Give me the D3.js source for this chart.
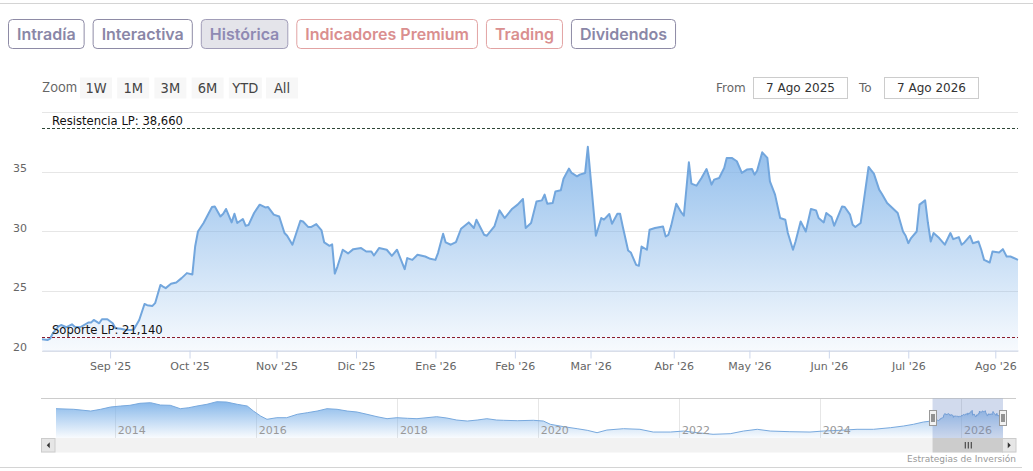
<!DOCTYPE html>
<html>
<head>
<meta charset="utf-8">
<script src="https://cdn.jsdelivr.net/npm/d3@7"></script>
<style>
  body { margin: 0; background: #fff; }
  svg { display: block; }
</style>
</head>
<body>
<div id="chart"></div>
<script>
// ---- data ----
const tabLabels = ['Intradía', 'Interactiva', 'Histórica', 'Indicadores Premium', 'Trading', 'Dividendos'];
const tabKinds = ['plain', 'plain', 'active', 'premium', 'premium', 'plain'];

const zoomButtons = ['1W', '1M', '3M', '6M', 'YTD', 'All'];
const rangeFrom = '7 Ago 2025';
const rangeTo = '7 Ago 2026';

// month boundaries of the visible year and trading sessions in each (ordinal axis)
const monthBreaks = ['2025-08-07', '2025-09-01', '2025-10-01', '2025-11-01', '2025-12-01', '2026-01-01',
  '2026-02-01', '2026-03-01', '2026-04-01', '2026-05-01', '2026-06-01', '2026-07-01', '2026-08-01', '2026-08-07'];
const sessionsPerMonth = [18, 21, 23, 21, 21, 21, 20, 22, 20, 21, 21, 23, 6];
const monthLabels = ["Sep '25", "Oct '25", "Nov '25", "Dic '25", "Ene '26", "Feb '26", "Mar '26",
  "Abr '26", "May '26", "Jun '26", "Jul '26", "Ago '26"];

const yTicks = [20, 25, 30, 35, 40];
const yTickLabels = [20, 25, 30, 35];

const levelNames = ['Resistencia LP', 'Soporte LP'];
const levelValues = [38.66, 21.14];

const prices = [
  ['2025-08-07', 20.94], ['2025-08-09', 20.88], ['2025-08-10', 21.00], ['2025-08-11', 21.45],
  ['2025-08-13', 22.00], ['2025-08-14', 22.14], ['2025-08-16', 21.95], ['2025-08-18', 22.20],
  ['2025-08-19', 22.00], ['2025-08-21', 21.95], ['2025-08-24', 22.34], ['2025-08-25', 22.34],
  ['2025-08-26', 22.56], ['2025-08-28', 22.28], ['2025-08-29', 22.62], ['2025-08-31', 22.62],
  ['2025-09-02', 22.28], ['2025-09-03', 21.87], ['2025-09-05', 21.83], ['2025-09-07', 21.72],
  ['2025-09-09', 21.72], ['2025-09-10', 21.78], ['2025-09-12', 22.56], ['2025-09-14', 23.90],
  ['2025-09-15', 23.80], ['2025-09-17', 23.74], ['2025-09-18', 23.97], ['2025-09-20', 25.50],
  ['2025-09-21', 25.36], ['2025-09-22', 25.23], ['2025-09-24', 25.59], ['2025-09-26', 25.70],
  ['2025-09-28', 26.07], ['2025-09-30', 26.49], ['2025-10-02', 26.37], ['2025-10-03', 28.72],
  ['2025-10-04', 29.98], ['2025-10-06', 30.69], ['2025-10-09', 32.03], ['2025-10-10', 32.08],
  ['2025-10-12', 31.24], ['2025-10-13', 31.47], ['2025-10-14', 31.87], ['2025-10-16', 30.74],
  ['2025-10-17', 31.47], ['2025-10-18', 30.69], ['2025-10-20', 31.03], ['2025-10-21', 30.46],
  ['2025-10-22', 30.52], ['2025-10-24', 31.53], ['2025-10-26', 32.23], ['2025-10-28', 32.00],
  ['2025-10-29', 32.03], ['2025-10-31', 31.39], ['2025-11-02', 31.24], ['2025-11-04', 29.85],
  ['2025-11-05', 29.62], ['2025-11-07', 28.87], ['2025-11-10', 30.88], ['2025-11-11', 30.82],
  ['2025-11-13', 30.35], ['2025-11-14', 30.35], ['2025-11-16', 30.60], ['2025-11-18', 30.07],
  ['2025-11-19', 29.06], ['2025-11-21', 28.78], ['2025-11-22', 28.90], ['2025-11-23', 26.45],
  ['2025-11-24', 27.04], ['2025-11-26', 28.45], ['2025-11-28', 28.14], ['2025-11-30', 28.50],
  ['2025-12-03', 28.59], ['2025-12-05', 28.30], ['2025-12-07', 28.30], ['2025-12-08', 27.97],
  ['2025-12-10', 28.59], ['2025-12-13', 28.45], ['2025-12-15', 27.94], ['2025-12-17', 28.45],
  ['2025-12-20', 26.82], ['2025-12-21', 27.75], ['2025-12-23', 27.60], ['2025-12-25', 28.03],
  ['2025-12-28', 27.88], ['2025-12-30', 27.69], ['2026-01-01', 27.60], ['2026-01-02', 28.17],
  ['2026-01-04', 29.79], ['2026-01-05', 29.06], ['2026-01-07', 28.87], ['2026-01-09', 29.09],
  ['2026-01-11', 30.21], ['2026-01-14', 30.74], ['2026-01-16', 30.27], ['2026-01-17', 30.97],
  ['2026-01-20', 29.71], ['2026-01-21', 29.62], ['2026-01-24', 30.40], ['2026-01-26', 31.75],
  ['2026-01-28', 31.11], ['2026-01-31', 31.89], ['2026-02-02', 32.23], ['2026-02-04', 32.70],
  ['2026-02-05', 30.27], ['2026-02-07', 30.69], ['2026-02-09', 32.50], ['2026-02-11', 32.59],
  ['2026-02-12', 33.07], ['2026-02-13', 32.31], ['2026-02-15', 32.37], ['2026-02-16', 33.34],
  ['2026-02-18', 33.43], ['2026-02-19', 34.41], ['2026-02-21', 35.25], ['2026-02-22', 34.89],
  ['2026-02-24', 34.61], ['2026-02-25', 34.75], ['2026-02-27', 34.89], ['2026-02-28', 37.08],
  ['2026-03-03', 29.62], ['2026-03-05', 31.11], ['2026-03-06', 30.97], ['2026-03-08', 31.45],
  ['2026-03-09', 30.63], ['2026-03-11', 31.47], ['2026-03-12', 31.47], ['2026-03-13', 30.40],
  ['2026-03-15', 28.39], ['2026-03-16', 28.22], ['2026-03-18', 27.18], ['2026-03-19', 27.10],
  ['2026-03-20', 28.72], ['2026-03-22', 28.45], ['2026-03-23', 30.13], ['2026-03-25', 30.27],
  ['2026-03-28', 30.40], ['2026-03-29', 29.56], ['2026-03-30', 29.70], ['2026-03-31', 30.43],
  ['2026-04-02', 32.30], ['2026-04-04', 31.58], ['2026-04-05', 31.30], ['2026-04-07', 35.78],
  ['2026-04-08', 33.99], ['2026-04-10', 33.82], ['2026-04-12', 34.47], ['2026-04-14', 35.22],
  ['2026-04-16', 33.91], ['2026-04-17', 34.33], ['2026-04-19', 34.47], ['2026-04-21', 35.31],
  ['2026-04-22', 36.15], ['2026-04-24', 36.15], ['2026-04-26', 35.87], ['2026-04-28', 34.89],
  ['2026-04-30', 35.17], ['2026-05-02', 35.22], ['2026-05-03', 34.75], ['2026-05-04', 35.08],
  ['2026-05-06', 36.62], ['2026-05-08', 36.15], ['2026-05-09', 34.19], ['2026-05-11', 33.07],
  ['2026-05-13', 31.11], ['2026-05-15', 30.97], ['2026-05-16', 29.85], ['2026-05-18', 28.45],
  ['2026-05-19', 29.14], ['2026-05-21', 30.82], ['2026-05-23', 29.98], ['2026-05-25', 31.87],
  ['2026-05-27', 31.75], ['2026-05-28', 31.11], ['2026-05-30', 30.74], ['2026-05-31', 31.53],
  ['2026-06-02', 31.19], ['2026-06-03', 30.46], ['2026-06-06', 32.08], ['2026-06-07', 32.03],
  ['2026-06-09', 31.39], ['2026-06-10', 30.55], ['2026-06-11', 30.35], ['2026-06-13', 30.69],
  ['2026-06-14', 32.23], ['2026-06-16', 35.39], ['2026-06-17', 35.11], ['2026-06-18', 34.83],
  ['2026-06-20', 33.49], ['2026-06-21', 33.15], ['2026-06-23', 32.37], ['2026-06-25', 31.95],
  ['2026-06-27', 31.53], ['2026-06-29', 29.98], ['2026-06-30', 29.62], ['2026-07-01', 29.00],
  ['2026-07-02', 29.43], ['2026-07-04', 29.98], ['2026-07-05', 32.23], ['2026-07-07', 32.59],
  ['2026-07-08', 30.69], ['2026-07-09', 29.14], ['2026-07-10', 29.85], ['2026-07-12', 29.43],
  ['2026-07-14', 28.87], ['2026-07-16', 29.85], ['2026-07-17', 29.34], ['2026-07-19', 29.51],
  ['2026-07-20', 28.87], ['2026-07-21', 29.06], ['2026-07-23', 29.62], ['2026-07-24', 29.00],
  ['2026-07-26', 29.14], ['2026-07-27', 28.45], ['2026-07-28', 27.60], ['2026-07-30', 27.38],
  ['2026-07-31', 28.30], ['2026-08-02', 28.22], ['2026-08-03', 28.50], ['2026-08-04', 27.88],
  ['2026-08-05', 27.88], ['2026-08-07', 27.60]
];

// long history shown in the navigator (before the visible year)
const history = [
  ['2013-03-02', 39.5], ['2013-06-02', 38.6], ['2013-08-29', 36.0], ['2013-10-19', 38.6],
  ['2013-12-09', 42.0], ['2014-01-30', 43.5], ['2014-03-20', 44.6], ['2014-05-11', 47.6],
  ['2014-07-05', 48.5], ['2014-08-25', 45.0], ['2014-10-15', 44.6], ['2014-12-06', 39.5],
  ['2015-01-19', 41.0], ['2015-03-02', 43.5], ['2015-04-23', 46.1], ['2015-06-13', 50.0],
  ['2015-08-03', 49.5], ['2015-09-27', 46.1], ['2015-11-18', 43.5], ['2015-12-20', 36.0],
  ['2016-01-26', 28.5], ['2016-02-28', 23.6], ['2016-04-19', 26.0], ['2016-06-09', 26.0],
  ['2016-08-03', 31.1], ['2016-09-24', 33.5], ['2016-11-14', 36.0], ['2017-01-04', 39.5],
  ['2017-02-25', 38.6], ['2017-04-19', 36.0], ['2017-06-09', 34.5], ['2017-07-30', 31.1],
  ['2017-09-20', 27.5], ['2017-11-11', 24.5], ['2018-01-01', 26.0], ['2018-02-25', 25.1],
  ['2018-04-15', 24.5], ['2018-06-06', 26.0], ['2018-07-26', 27.5], ['2018-09-17', 25.5],
  ['2018-11-07', 22.5], ['2019-01-01', 21.0], ['2019-02-21', 22.5], ['2019-04-12', 24.5],
  ['2019-06-02', 22.5], ['2019-07-08', 22.1], ['2019-09-17', 21.5], ['2019-12-09', 22.1],
  ['2020-01-30', 21.0], ['2020-03-06', 16.1], ['2020-05-14', 12.5], ['2020-07-23', 9.5],
  ['2020-09-13', 7.1], ['2020-11-03', 3.5], ['2020-12-24', 7.5], ['2021-03-20', 9.5],
  ['2021-06-13', 8.6], ['2021-08-21', 4.5], ['2021-11-18', 4.5], ['2022-01-26', 6.0],
  ['2022-04-05', 3.5], ['2022-06-27', 1.1], ['2022-09-24', 2.0], ['2022-12-02', 6.0],
  ['2023-02-11', 8.6], ['2023-04-19', 6.0], ['2023-07-30', 5.0], ['2023-11-11', 4.5],
  ['2024-01-19', 6.0], ['2024-04-15', 7.1], ['2024-07-12', 8.6], ['2024-10-05', 8.6],
  ['2025-01-01', 11.0], ['2025-03-09', 13.5], ['2025-04-30', 16.1], ['2025-06-20', 19.5],
  ['2025-07-20', 20.6]
];
const navYears = ['2014', '2016', '2018', '2020', '2022', '2024', '2026'];

// ---- setup ----
const W = 1033, H = 471;
const parse = d3.utcParse('%Y-%m-%d');
const series = prices.map(([d, v]) => ({ date: parse(d), value: v }));
const navSeries = history.map(([d, v]) => ({ date: parse(d), value: v })).concat(series);
const es = d3.formatLocale({ decimal: ',', thousands: '.', grouping: [3], currency: ['', '€'] });
const fmtLevel = es.format('.3f');

const plot = { left: 42, right: 1018, top: 112, bottom: 350.5 };
const nav = { left: 56, right: 1003, top: 398.5, bottom: 438 };

const svg = d3.select('#chart').append('svg')
  .attr('width', W).attr('height', H)
  .style('font-family', '"DejaVu Sans", Verdana, sans-serif');

const defs = svg.append('defs');
function fade(id, y1, y2, top, bottom) {
  const g = defs.append('linearGradient').attr('id', id)
    .attr('gradientUnits', 'userSpaceOnUse')
    .attr('x1', 0).attr('x2', 0).attr('y1', y1).attr('y2', y2);
  g.append('stop').attr('offset', 0).attr('stop-color', '#7cb1e8').attr('stop-opacity', top);
  g.append('stop').attr('offset', 1).attr('stop-color', '#7cb1e8').attr('stop-opacity', bottom);
}
fade('mainFill', plot.top, plot.bottom, 0.95, 0.06);
fade('navFill', nav.top, nav.bottom, 1, 0.05);

// page frame lines
svg.append('line').attr('x1', 0).attr('x2', W).attr('y1', 3.5).attr('y2', 3.5).attr('stroke', '#d4d4d4');
svg.append('line').attr('x1', 0).attr('x2', 1022).attr('y1', 467.5).attr('y2', 467.5).attr('stroke', '#d4d4d4');

// ---- tabs ----
const tabStyle = {
  plain: { stroke: '#8e8ba6', fill: '#fff', text: '#8a87a7' },
  active: { stroke: '#a19db8', fill: '#e4e4ea', text: '#8f8ab3' },
  premium: { stroke: '#e2a3a3', fill: '#fff', text: '#da8f8f' }
};
let tx = 8;
tabLabels.forEach((label, i) => {
  const st = tabStyle[tabKinds[i]];
  const g = svg.append('g');
  const rect = g.append('rect').attr('y', 19.5).attr('height', 29).attr('rx', 4)
    .attr('fill', st.fill).attr('stroke', st.stroke);
  const t = g.append('text').text(label)
    .attr('y', 40).attr('text-anchor', 'middle')
    .attr('fill', st.text)
    .style('font-family', 'Inter, "Noto Sans", sans-serif')
    .style('font-weight', 600).style('font-size', '16px');
  const w = t.node().getComputedTextLength() + 17;
  rect.attr('x', tx + 0.5).attr('width', w);
  t.attr('x', tx + 0.5 + w / 2);
  tx += w + 9;
});

// ---- range selector ----
svg.append('text').text('Zoom').attr('x', 42).attr('y', 92)
  .attr('fill', '#666').style('font-family', 'Inter, "Noto Sans", sans-serif').style('font-size', '13px');
zoomButtons.forEach((b, i) => {
  const bx = 80 + i * 37.2;
  const bw = b === 'YTD' ? 33 : 32;
  svg.append('rect').attr('x', bx).attr('y', 77.5).attr('width', bw).attr('height', 21)
    .attr('fill', '#f7f7f7');
  svg.append('text').text(b).attr('x', bx + bw / 2).attr('y', 93)
    .attr('text-anchor', 'middle').attr('fill', '#444')
    .style('font-family', '"Liberation Sans Narrow", "DejaVu Sans Condensed", sans-serif')
    .style('font-size', '14.5px');
});
[['From', 716, 753.5, rangeFrom], ['To', 859, 884.5, rangeTo]].forEach(([lab, lx, bx, val]) => {
  svg.append('text').text(lab).attr('x', lx).attr('y', 91.5).attr('fill', '#666').style('font-size', '12px');
  svg.append('rect').attr('x', bx).attr('y', 77.5).attr('width', 94).attr('height', 21)
    .attr('fill', '#fff').attr('stroke', '#cccccc');
  svg.append('text').text(val).attr('x', bx + 47).attr('y', 92).attr('text-anchor', 'middle')
    .attr('fill', '#333').style('font-size', '12px');
});

// ---- main chart ----
const cum = [0];
sessionsPerMonth.forEach(s => cum.push(cum[cum.length - 1] + s));
const total = cum[cum.length - 1];
const x = d3.scaleUtc()
  .domain(monthBreaks.map(parse))
  .range(cum.map(c => plot.left + c / total * (plot.right - plot.left)));
const y = d3.scaleLinear().domain([20, 40]).range([plot.bottom, plot.top]);

svg.append('g').selectAll('line').data(yTicks).join('line')
  .attr('x1', plot.left).attr('x2', plot.right)
  .attr('y1', d => Math.round(y(d)) + 0.5).attr('y2', d => Math.round(y(d)) + 0.5)
  .attr('stroke', '#e6e6e6');

svg.append('g').selectAll('text').data(yTickLabels).join('text')
  .attr('x', 27).attr('y', d => y(d) + 0.5)
  .attr('text-anchor', 'end').attr('fill', '#666').style('font-size', '11px')
  .text(d => d);

svg.append('path').datum(series)
  .attr('fill', 'url(#mainFill)')
  .attr('d', d3.area().x(d => x(d.date)).y0(plot.bottom).y1(d => y(d.value)));
svg.append('path').datum(series)
  .attr('fill', 'none').attr('stroke', '#72a6dd').attr('stroke-width', 2)
  .attr('stroke-linejoin', 'round')
  .attr('d', d3.line().x(d => x(d.date)).y(d => y(d.value)));

const xAxis = svg.append('g').attr('transform', `translate(0,${plot.bottom})`)
  .call(d3.axisBottom(x)
    .tickValues(monthBreaks.slice(1, -1).map(parse))
    .tickFormat((d, i) => monthLabels[i])
    .tickSize(8).tickPadding(4).tickSizeOuter(0));
xAxis.select('.domain').attr('stroke', '#ccd6eb');
xAxis.selectAll('.tick line').attr('stroke', '#ccd6eb');
xAxis.selectAll('.tick text').attr('fill', '#666').style('font-size', '11px')
  .style('font-family', '"DejaVu Sans", Verdana, sans-serif');

// support / resistance levels
const levelColors = ['#2e4636', '#8b1c2c'];
levelValues.forEach((v, i) => {
  const ly = Math.round(y(v)) + 0.5;
  svg.append('line').attr('x1', plot.left).attr('x2', plot.right)
    .attr('y1', ly).attr('y2', ly)
    .attr('stroke', levelColors[i]).attr('stroke-dasharray', '3,2');
  svg.append('text').text(`${levelNames[i]}: ${fmtLevel(v)}`)
    .attr('x', 52).attr('y', ly - 3.5).attr('fill', '#111').style('font-size', '11.6px');
});

// ---- navigator ----
const nx = d3.scaleUtc()
  .domain([navSeries[0].date, navSeries[navSeries.length - 1].date])
  .range([nav.left, nav.right]);
const ny = d3.scaleLinear().domain(d3.extent(navSeries, d => d.value))
  .range([nav.bottom - 3.7, nav.top + 3.2]);

svg.append('g').selectAll('line').data(navYears).join('line')
  .attr('x1', d => Math.round(nx(parse(d + '-01-01'))) + 0.5)
  .attr('x2', d => Math.round(nx(parse(d + '-01-01'))) + 0.5)
  .attr('y1', nav.top).attr('y2', nav.bottom).attr('stroke', '#e6e6e6');

svg.append('path').datum(navSeries)
  .attr('fill', 'url(#navFill)')
  .attr('d', d3.area().x(d => nx(d.date)).y0(nav.bottom).y1(d => ny(d.value)));
svg.append('path').datum(navSeries)
  .attr('fill', 'none').attr('stroke', '#78a9de').attr('stroke-width', 1)
  .attr('d', d3.line().x(d => nx(d.date)).y(d => ny(d.value)));

svg.append('g').selectAll('text').data(navYears).join('text')
  .attr('x', d => nx(parse(d + '-01-01')) + 3).attr('y', 434)
  .attr('fill', '#999').style('font-size', '11px').text(d => d);

svg.append('line').attr('x1', 41).attr('x2', 1016).attr('y1', nav.top).attr('y2', nav.top)
  .attr('stroke', '#cccccc');

const selA = nx(series[0].date), selB = nx(series[series.length - 1].date);
svg.append('rect').attr('x', selA).attr('y', nav.top).attr('width', selB - selA)
  .attr('height', nav.bottom - nav.top).attr('fill', 'rgba(102,133,194,0.3)');

// scrollbar
const sb = { top: 438, h: 14.5 };
svg.append('rect').attr('x', 41).attr('y', sb.top).attr('width', 975).attr('height', sb.h).attr('fill', '#f2f2f2');
svg.append('rect').attr('x', selA).attr('y', sb.top).attr('width', selB - selA).attr('height', sb.h).attr('fill', '#cccccc');
[[41.5, -1], [1002.5, 1]].forEach(([bx, dir]) => {
  svg.append('rect').attr('x', bx).attr('y', sb.top + 0.5).attr('width', 13.5).attr('height', sb.h - 1)
    .attr('fill', '#e6e6e6').attr('stroke', '#cccccc');
  const cx = bx + 6.75, cy = sb.top + sb.h / 2;
  svg.append('path').attr('fill', '#333')
    .attr('d', `M${cx - 1.5 * dir},${cy - 3}L${cx + 1.5 * dir},${cy}L${cx - 1.5 * dir},${cy + 3}Z`);
});
const mid = (selA + selB) / 2;
[-3, 0, 3].forEach(o => {
  svg.append('line').attr('x1', mid + o + 0.5).attr('x2', mid + o + 0.5)
    .attr('y1', sb.top + 4).attr('y2', sb.top + sb.h - 4).attr('stroke', '#333');
});

// handles
[selA, selB].forEach(hx => {
  const r = Math.round(hx);
  svg.append('rect').attr('x', r - 3.5).attr('y', 410.5).attr('width', 7).attr('height', 15)
    .attr('fill', '#f2f2f2').attr('stroke', '#999');
  [-1, 1].forEach(o => svg.append('line')
    .attr('x1', r + o).attr('x2', r + o)
    .attr('y1', 414).attr('y2', 422).attr('stroke', '#333'));
});

svg.append('text').text('Estrategias de Inversión')
  .attr('x', 1016).attr('y', 462).attr('text-anchor', 'end')
  .attr('fill', '#999').style('font-size', '9px');
</script>
</body>
</html>
